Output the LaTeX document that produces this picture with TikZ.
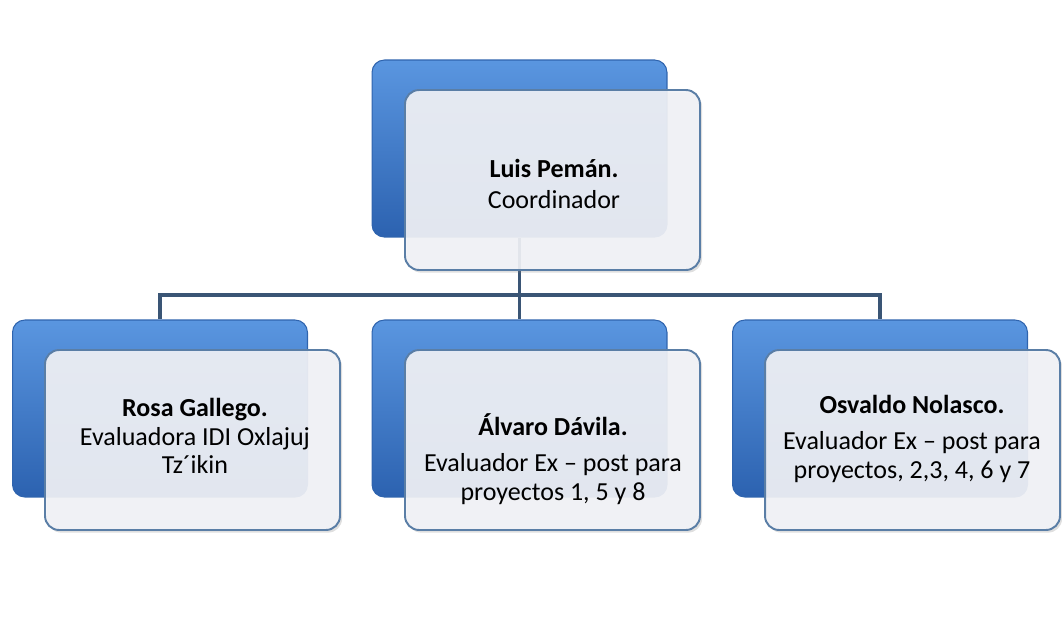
\documentclass[tikz,border=0pt]{standalone}
\usepackage{fontspec}
\setmainfont{Carlito}
\usepackage{xcolor}
\usepackage{tikz}
\usetikzlibrary{calc, shadows, positioning}

\definecolor{azulSup}{HTML}{5A96E0}
\definecolor{azulInf}{HTML}{2C62B0}
\definecolor{azulBorde}{HTML}{2F64AE}
\definecolor{blancoCaja}{HTML}{F2F3F7}
\definecolor{bordeCaja}{HTML}{5A7EA6}
\definecolor{linea}{HTML}{3A5575}

\tikzset{
    fondo/.style={rectangle, rounded corners=7pt, minimum width=5.9cm, minimum height=3.54cm,
        top color=azulSup, bottom color=azulInf, draw=azulBorde, line width=0.6pt},
    frente/.style={rectangle, rounded corners=8pt, minimum width=5.9cm, minimum height=3.6cm,
        fill=blancoCaja, fill opacity=0.91, draw=bordeCaja, line width=1.1pt,
        drop shadow={shadow xshift=1.2pt, shadow yshift=-1.5pt, opacity=0.25}},
    texto/.style={align=center, font=\fontsize{14.8}{16.4}\selectfont, text=black},
    conector/.style={draw=linea, line width=1.8pt}
}

\begin{document}
\begin{tikzpicture}[x=0.02cm, y=-0.02cm]
    \useasboundingbox (0,0) rectangle (1062,626);

    % 1. Cajas azules (fondo)
    \node[fondo] (b0) at (519.5,148.5) {};
    \node[fondo] (b1) at (160,408.5) {};
    \node[fondo] (b2) at (519.5,408.5) {};
    \node[fondo] (b3) at (880,408.5) {};

    % 2. Conectores
    \coordinate (bus) at (519.5,295);
    \draw[conector] (b0.south) -- (bus);
    \draw[conector] (bus) -| (b1.north);
    \draw[conector] (bus) -- (b2.north);
    \draw[conector] (bus) -| (b3.north);

    % 3. Cajas blancas (frente)
    \node[frente] (w0) at (552.5,180) {};
    \node[frente] (w1) at (192.5,440) {};
    \node[frente] (w2) at (552.5,440) {};
    \node[frente] (w3) at (912.5,440) {};

    % 4. Textos
    \node[texto] (t0) at (554,184) {\textbf{Luis Pemán.}\\[1pt] Coordinador};
    \node[texto] (t1) at (195,436) {\textbf{Rosa Gallego.}\\ Evaluadora IDI Oxlajuj\\ Tz´ikin};
    \node[texto] (t2) at (553,459) {\textbf{Álvaro Dávila.}\\[4pt] Evaluador Ex – post para\\ proyectos 1, 5 y 8};
    \node[texto] (t3) at (912,439) {\textbf{Osvaldo Nolasco.}\\[4pt] Evaluador Ex – post para\\ proyectos, 2,3, 4, 6 y 7};
\end{tikzpicture}
\end{document}
